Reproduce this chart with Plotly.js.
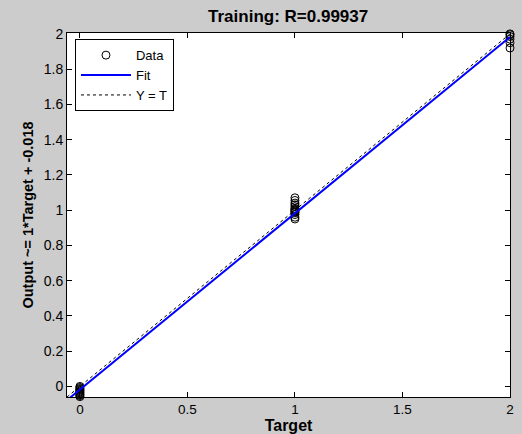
<!DOCTYPE html>
<html>
<head>
<meta charset="utf-8">
<script src="https://cdn.plot.ly/plotly-3.0.1.min.js"></script>
<style>html,body{margin:0;padding:0;background:#cccccc;}#chart{width:522px;height:434px;}</style>
</head>
<body>
<div id="chart"></div>
<script>
// Data
var targets0 = [0,0,0,0,0,0,0,0,0,0,0,0];
var outputs0 = [-0.058,-0.052,-0.047,-0.042,-0.037,-0.032,-0.027,-0.022,-0.017,-0.012,-0.006,0.0];
var targets1 = [1,1,1,1,1,1,1,1,1,1,1,1,1,1];
var outputs1 = [0.95,0.96,0.975,0.985,0.99,0.995,1.0,1.005,1.01,1.02,1.03,1.04,1.055,1.07];
var targets2 = [2,2,2,2,2,2];
var outputs2 = [1.92,1.95,1.97,1.985,1.995,2.0];
var lineX = [-0.06, 2.0];
var fitSlope = 1, fitIntercept = -0.018;
var xTicks = [0, 0.5, 1, 1.5, 2];
var yTicks = [0, 0.2, 0.4, 0.6, 0.8, 1, 1.2, 1.4, 1.6, 1.8, 2];
var titleText = "Training: R=0.99937";

var dataX = targets0.concat(targets1, targets2);
var dataY = outputs0.concat(outputs1, outputs2);
var fitY = lineX.map(function(x){ return fitSlope * x + fitIntercept; });

var traces = [
  {x: dataX, y: dataY, mode: 'markers', name: 'Data', type: 'scatter', cliponaxis: false,
   marker: {symbol: 'circle-open', size: 8, color: '#000000', line: {width: 1, color: '#000000'}}},
  {x: lineX, y: fitY, mode: 'lines', name: 'Fit', type: 'scatter',
   line: {color: '#0000ff', width: 2}},
  {x: lineX, y: lineX, mode: 'lines', name: 'Y = T', type: 'scatter',
   line: {color: '#000000', width: 1, dash: '3px,3px'}}
];

var fam = 'Liberation Sans, Arial, sans-serif';
var font = {family: fam, size: 13, color: '#000000'};
var layout = {
  width: 522, height: 434,
  paper_bgcolor: '#cccccc', plot_bgcolor: '#ffffff',
  margin: {l: 67, r: 12, t: 33, b: 37},
  font: font,
  showlegend: true,
  title: {text: '<b>' + titleText + '</b>', x: 0.552, xanchor: 'center', y: 0.962, yanchor: 'middle',
          font: {family: fam, size: 17, color: '#000000'}},
  xaxis: {range: [-0.06, 2.0], tickvals: xTicks, ticktext: xTicks.map(String),
          ticks: 'inside', ticklen: 5, tickcolor: '#000', mirror: 'ticks', showline: true,
          linecolor: '#000', linewidth: 1, showgrid: false, zeroline: false,
          tickfont: {family: fam, size: 13.5, color: '#000'},
          title: {text: '<b>Target</b>', standoff: 6, font: {family: fam, size: 16, color: '#000'}}},
  yaxis: {range: [-0.06, 2.005], tickvals: yTicks, ticktext: yTicks.map(String),
          ticks: 'inside', ticklen: 5, tickcolor: '#000', mirror: 'ticks', showline: true,
          linecolor: '#000', linewidth: 1, showgrid: false, zeroline: false,
          tickfont: {family: fam, size: 14, color: '#000'},
          title: {text: '<b>Output ~= 1*Target + -0.018</b>', standoff: 6, font: {family: fam, size: 14.5, color: '#000'}}},
  legend: {x: 0.018, y: 0.983, xanchor: 'left', yanchor: 'top', bgcolor: '#ffffff',
           bordercolor: '#000000', borderwidth: 1, font: {family: fam, size: 13, color: '#000'},
           tracegroupgap: 0, itemwidth: 50}
};

Plotly.newPlot('chart', traces, layout, {displayModeBar: false, staticPlot: true});
</script>
</body>
</html>
